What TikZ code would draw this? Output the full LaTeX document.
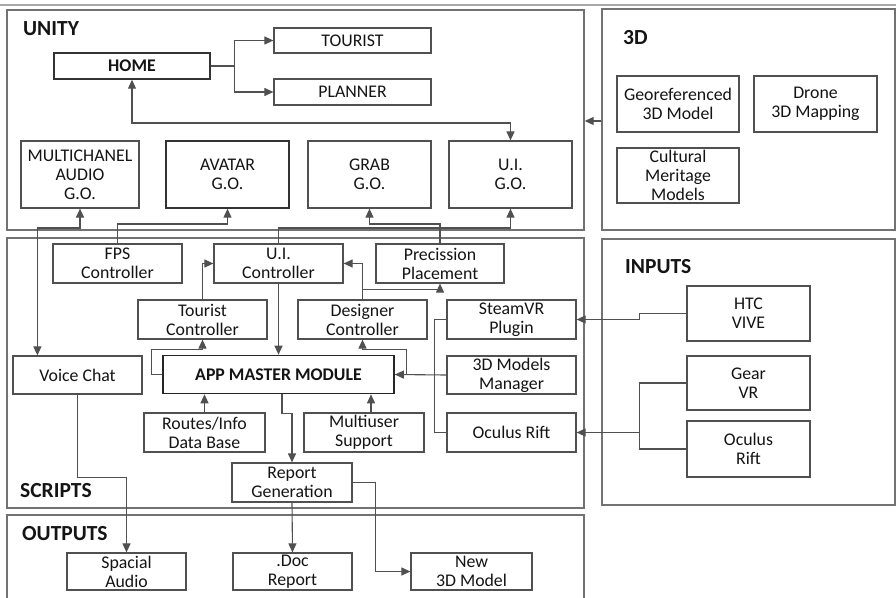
\documentclass[tikz,border=0pt]{standalone}
\usepackage{fontspec}
\setmainfont{Carlito}
\usetikzlibrary{arrows.meta,calc}
\definecolor{boxc}{HTML}{505050}
\definecolor{framec}{HTML}{727272}
\definecolor{linec}{HTML}{505050}
\definecolor{txtc}{HTML}{141414}
\definecolor{topc}{HTML}{A8A8A8}
\newcommand\fsbox{\fontsize{17.8}{19}\selectfont}
\newcommand\fslbl{\fontsize{21.5}{24}\selectfont\bfseries}
\tikzset{
  box/.style={draw=boxc, line width=1.2pt, fill=white, align=center, font=\fsbox, text=txtc, inner sep=0pt},
  frame/.style={draw=framec, line width=1.4pt, inner sep=0pt},
  lbl/.style={font=\fslbl, text=txtc, anchor=west, inner sep=0pt},
  conn/.style={draw=linec, line width=1.1pt},
  arr/.style={conn, -{Triangle[length=9pt,width=8pt]}},
  dbl/.style={conn, {Triangle[length=9pt,width=8pt]}-{Triangle[length=9pt,width=8pt]}}
}
\begin{document}
\begin{tikzpicture}[x=1pt,y=-1pt]
\useasboundingbox (0,0) rectangle (896,597);
\draw[topc, line width=2pt] (0,4.5) -- (896,4.5);
% frames
\node[frame, minimum width=577pt, minimum height=220pt] (unity) at (295.5,120) {};
\node[frame, minimum width=293pt, minimum height=221pt] (threed) at (748.5,119.5) {};
\node[frame, minimum width=577pt, minimum height=270pt] (scripts) at (295.5,373) {};
\node[frame, minimum width=293pt, minimum height=266pt] (inputs) at (748.5,372) {};
\node[frame, minimum width=577pt, minimum height=90pt] (outputs) at (295.5,560) {};
% frame labels
\node[lbl] (lunity) at (23,29) {UNITY};
\node[lbl] (lthreed) at (623,38) {3D};
\node[lbl] (linputs) at (625,267) {INPUTS};
\node[lbl] (lscripts) at (20,491) {SCRIPTS};
\node[lbl] (loutputs) at (22,534) {OUTPUTS};
% UNITY
\node[box, minimum width=156pt, minimum height=26pt, draw=black!80, line width=1.4pt] (home) at (132,66) {\textbf{HOME}};
\node[box, minimum width=157pt, minimum height=25pt] (tourist) at (352.5,40.5) {TOURIST};
\node[box, minimum width=157pt, minimum height=26pt] (planner) at (352.5,92) {PLANNER};
\node[box, minimum width=118pt, minimum height=67pt] (multi) at (80,174.5) {MULTICHANEL\\AUDIO\\G.O.};
\node[box, minimum width=123pt, minimum height=67pt, draw=black!80, line width=1.4pt] (avatar) at (227.5,174.5) {AVATAR\\G.O.};
\node[box, minimum width=123pt, minimum height=67pt] (grab) at (369.5,174.5) {GRAB\\G.O.};
\node[box, minimum width=123pt, minimum height=67pt] (uigo) at (510.5,174.5) {U.I.\\G.O.};
% 3D
\node[box, minimum width=122pt, minimum height=56pt] (geo) at (678,104) {Georeferenced\\3D Model};
\node[box, minimum width=123pt, minimum height=56pt] (drone) at (815.5,104) {Drone\\3D Mapping};
\node[box, minimum width=122pt, minimum height=55pt] (cult) at (678,175.5) {Cultural\\Meritage\\Models};
% SCRIPTS
\node[box, minimum width=129pt, minimum height=39pt] (fps) at (117.5,263.5) {FPS\\Controller};
\node[box, minimum width=129pt, minimum height=39pt] (uic) at (278.5,263.5) {U.I.\\Controller};
\node[box, minimum width=128pt, minimum height=39pt] (prec) at (440,263.5) {Precission\\Placement};
\node[box, minimum width=129pt, minimum height=39pt] (tour) at (202.5,319.5) {Tourist\\Controller};
\node[box, minimum width=129pt, minimum height=39pt] (des) at (362.5,319.5) {Designer\\Controller};
\node[box, minimum width=129pt, minimum height=39pt] (steam) at (511.5,319.5) {SteamVR\\Plugin};
\node[box, minimum width=129pt, minimum height=38pt] (voice) at (77.5,375) {Voice Chat};
\node[box, minimum width=231pt, minimum height=38pt, draw=black!85, line width=1.6pt] (app) at (278.5,374.5) {\textbf{APP MASTER MODULE}};
\node[box, minimum width=129pt, minimum height=38pt] (models) at (511.5,375) {3D Models\\Manager};
\node[box, minimum width=121pt, minimum height=39pt] (routes) at (204.5,432.5) {Routes/Info\\Data Base};
\node[box, minimum width=120pt, minimum height=39pt] (multiu) at (364,432.5) {Multiuser\\Support};
\node[box, minimum width=129pt, minimum height=39pt] (ocs) at (511.5,432.5) {Oculus Rift};
\node[box, minimum width=120pt, minimum height=39pt] (report) at (292,482.5) {Report\\Generation};
% INPUTS
\node[box, minimum width=123pt, minimum height=55pt] (htc) at (748.5,313.5) {HTC\\VIVE};
\node[box, minimum width=123pt, minimum height=54pt] (gear) at (748.5,383) {Gear\\VR};
\node[box, minimum width=123pt, minimum height=56pt] (ocin) at (748.5,449) {Oculus\\Rift};
% OUTPUTS
\node[box, minimum width=119pt, minimum height=37pt] (spatial) at (126.5,571.5) {Spacial\\Audio};
\node[box, minimum width=119pt, minimum height=37pt] (doc) at (292.5,571.5) {.Doc\\Report};
\node[box, minimum width=121pt, minimum height=37pt] (newm) at (471.5,571.5) {New\\3D Model};
% connectors UNITY
\draw[conn] (home.east) -- ++(24,0) coordinate (hb);
\draw[arr] (hb) |- (tourist.west);
\draw[arr] (hb) |- (planner.west);
\draw[dbl] (home.south) -- (home.south |- 0,123) -| (uigo.north);
\draw[arr] (threed.west |- 0,121) -- (unity.east |- 0,121);
% connectors crossing UNITY / SCRIPTS
\coordinate (vtop) at ($(voice.north west)+(25,0)$);
\draw[dbl] (multi.south) -- (multi.south |- 0,228) -| (vtop);
\draw[arr] (fps.north) -- (fps.north |- 0,224) -| (avatar.south);
\draw[arr] (prec.north) -- (prec.north |- 0,224) -| (grab.south);
\draw[arr] (uic.north) -- (uic.north |- 0,228) -| (uigo.south);
% SCRIPTS
\draw[arr] (tour.north) |- (uic.west);
\draw[arr] (uic.south) -- (app.north);
\draw[arr] (app.west) -- ++(-11,0) |- ($(tour.south)+(0,10)$) -- (tour.south);
\draw[arr] (app.east) ++(12,0) |- ($(des.south)+(0,10)$) -- (des.south);
\draw[conn] (app.east) -- ++(12,0);
\draw[arr] (models.west) -- (app.east);
\draw[conn] (steam.west) -- ++(-12,0) |- (ocs.west);
\draw[arr] (des.north) |- (uic.east);
\draw[arr] ($(des.north)+(0,-10)$) -| (prec.south);
\draw[arr] (routes.north) -- (routes.north |- app.south);
\draw[arr] ([xshift=7pt]multiu.north) -- ([xshift=7pt]multiu.north |- app.south);
\draw[arr] ([xshift=3.5pt]app.south) -- ++(0,19) -| (report.north);
% to OUTPUTS
\draw[arr] (report.south) -- (doc.north);
\draw[arr] (report.east) -- ++(23,0) |- (newm.west);
\draw[arr] (voice.south) -- ++(0,83) -| (spatial.north);
% INPUTS
\draw[arr] (htc.west) -- ++(-47,0) |- (steam.east);
\coordinate (gx) at ($(gear.west)+(-47,0)$);
\draw[conn] (gear.west) -- (gx) |- (ocin.west);
\draw[arr] (gx |- ocs.east) -- (ocs.east);
\end{tikzpicture}
\end{document}
